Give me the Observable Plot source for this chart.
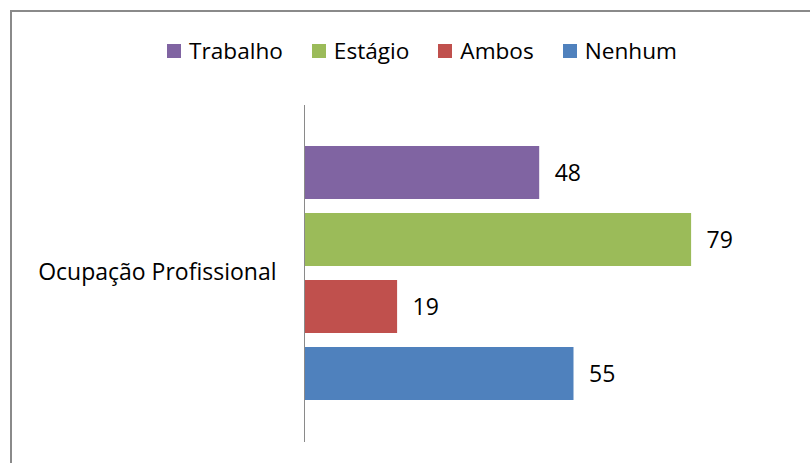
<!DOCTYPE html>
<html><head><meta charset="utf-8">
<script src="https://cdn.jsdelivr.net/npm/d3@7"></script>
<script src="https://cdn.jsdelivr.net/npm/@observablehq/plot@0.6"></script>
<style>
html,body{margin:0;padding:0;background:#fff;overflow:hidden;width:810px;height:463px;}
#wrap{position:relative;width:810px;height:463px;font-family:"Open Sans",sans-serif;}
#border{position:absolute;left:10px;top:10px;width:900px;height:600px;border:2.5px solid #8a8a8a;box-sizing:border-box;}
#legend{position:absolute;top:35px;left:0;width:810px;padding-left:34px;box-sizing:border-box;display:flex;justify-content:center;gap:29px;font-size:22.6px;color:#000;}
#legend .it{display:flex;align-items:center;gap:8px;}
#legend .sw{width:14px;height:14px;display:inline-block;}
#chart{position:absolute;left:0;top:0;}
</style></head>
<body><div id="wrap"><div id="border"></div><div id="legend"></div><div id="chart"></div></div>
<script>
const categories = ["Ocupação Profissional"];
const series = ["Trabalho", "Estágio", "Ambos", "Nenhum"];
const values = [48, 79, 19, 55];
const colors = ["#8064A2", "#9BBB59", "#C0504D", "#4F81BD"];

const data = series.map((s, i) => ({category: categories[0], series: s, value: values[i]}));

const legend = document.getElementById("legend");
series.forEach((s, i) => {
  const it = document.createElement("div");
  it.className = "it";
  const sw = document.createElement("span");
  sw.className = "sw";
  sw.style.background = colors[i];
  const t = document.createElement("span");
  t.textContent = s;
  it.appendChild(sw); it.appendChild(t);
  legend.appendChild(it);
});

const chart = Plot.plot({
  width: 810,
  height: 463,
  marginLeft: 304,
  marginRight: 16,
  marginTop: 105,
  marginBottom: 21,
  style: {background: "transparent", fontFamily: "'Open Sans', sans-serif"},
  x: {domain: [0, 100], axis: null},
  y: {domain: series, axis: null, paddingInner: 0.207, paddingOuter: 0.6},
  color: {domain: series, range: colors},
  marks: [
    Plot.barX(data, {x: "value", y: "series", fill: "series"}),
    Plot.text(data, {x: "value", y: "series", text: d => String(d.value), textAnchor: "start", dx: 15, dy: 1, fontSize: 23, fill: "#000"}),
    Plot.text(categories, {frameAnchor: "left", text: d => d, textAnchor: "end", dx: -28, dy: -1, fontSize: 23, fill: "#000"}),
    Plot.ruleX([0], {stroke: "#8a8a8a", strokeWidth: 1})
  ]
});
document.getElementById("chart").appendChild(chart);
</script></body></html>
